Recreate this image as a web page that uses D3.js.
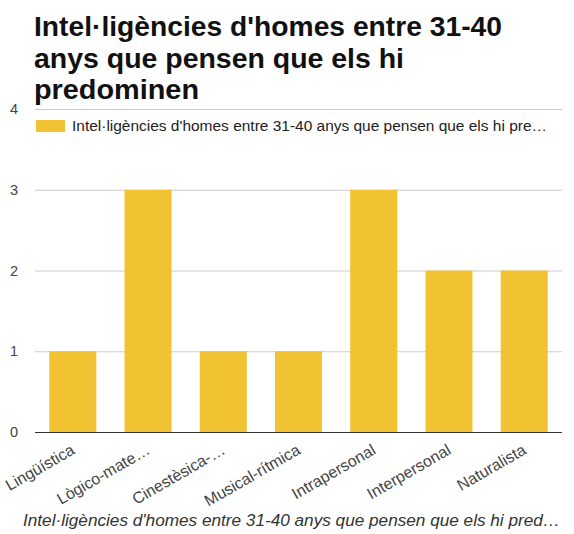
<!DOCTYPE html>
<html><head><meta charset="utf-8">
<script src="https://cdn.jsdelivr.net/npm/d3@7"></script>
<style>body{margin:0;background:#fff}svg{display:block}</style>
</head><body>
<svg id="c" width="574" height="534"></svg>
<script>
const categories = ["Lingüística","Lògico-mate…","Cinestèsica-…","Musical-rítmica","Intrapersonal","Interpersonal","Naturalista"];
const values = [1,3,1,1,3,2,2];
const yTicks = [0,1,2,3,4];
const titleLines = ["Intel·ligències d'homes entre 31-40","anys que pensen que els hi","predominen"];
const legendLabel = "Intel·ligències d'homes entre 31-40 anys que pensen que els hi pre…";
const xTitle = "Intel·ligències d'homes entre 31-40 anys que pensen que els hi pred…";
const barColor = "#f1c232";

const svg = d3.select("#c");
const font = "Arial, 'Liberation Sans', sans-serif";
const x = d3.scaleBand().domain(categories).range([35,562]).paddingInner(0.375).paddingOuter(0.19);
const y = d3.scaleLinear().domain([0,4]).range([432,109]);

// title
const titleEnds = [502,404,199];
const t = svg.append("text").attr("font-family",font).attr("font-weight","bold").attr("font-size",28).attr("fill","#111");
titleLines.forEach((l,i)=>t.append("tspan").attr("x",34).attr("y",36+i*31.5)
  .attr("textLength",titleEnds[i]-34).attr("lengthAdjust","spacingAndGlyphs").text(l));

// gridlines
svg.append("g").selectAll("line").data(yTicks.filter(d=>d>0)).join("line")
  .attr("x1",35).attr("x2",562).attr("y1",d=>y(d)+0.5).attr("y2",d=>y(d)+0.5)
  .attr("stroke","#ccc").attr("stroke-width",1);

// y labels
svg.append("g").selectAll("text").data(yTicks).join("text")
  .attr("x",14).attr("y",d=>y(d)+5).attr("text-anchor","middle")
  .attr("font-family",font).attr("font-size",14.5).attr("fill","#444").text(d=>d);

// legend
svg.append("rect").attr("x",36).attr("y",120).attr("width",29).attr("height",12).attr("fill",barColor);
svg.append("text").attr("x",72).attr("y",131).attr("font-family",font).attr("font-size",14)
  .attr("textLength",475).attr("lengthAdjust","spacingAndGlyphs").attr("fill","#222").text(legendLabel);

// bars
svg.append("g").selectAll("rect").data(values).join("rect")
  .attr("x",(d,i)=>x(categories[i])).attr("width",x.bandwidth())
  .attr("y",d=>y(d)).attr("height",d=>y(0)-y(d)).attr("fill",barColor);

// baseline
svg.append("line").attr("x1",35).attr("x2",562).attr("y1",432.5).attr("y2",432.5).attr("stroke","#333").attr("stroke-width",1);

// x labels
svg.append("g").selectAll("text").data(categories).join("text")
  .attr("transform",d=>`translate(${x(d)+x.bandwidth()/2+3},453) rotate(-30)`)
  .attr("text-anchor","end").attr("font-family",font).attr("font-size",16).attr("fill","#444").text(d=>d);

// x title
svg.append("text").attr("x",23).attr("y",526)
  .attr("font-family",font).attr("font-style","italic").attr("font-size",16)
  .attr("textLength",537).attr("lengthAdjust","spacingAndGlyphs").attr("fill","#333").text(xTitle);
</script>
</body></html>
